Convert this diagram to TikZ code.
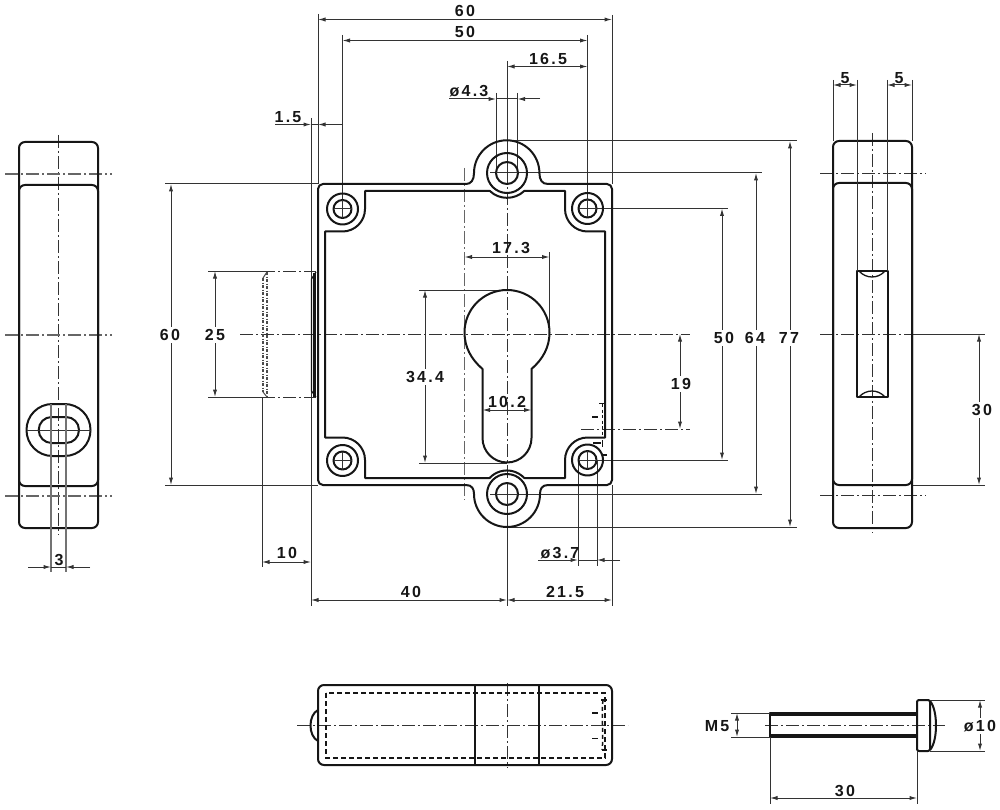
\documentclass[tikz,border=0pt]{standalone}
\usepackage{fontspec}
\setmainfont{Liberation Sans}
\newfontfamily\dimfont[LetterSpace=14]{Liberation Sans}
\usetikzlibrary{arrows.meta}
\definecolor{ink}{HTML}{161616}
\definecolor{thin}{HTML}{333333}
\tikzset{
  x=1pt,y=-1pt,
  obj/.style={draw=ink,line width=2pt,line join=round},
  objthin/.style={draw=ink,line width=1.3pt},
  ext/.style={draw=thin,line width=1pt},
  extsoft/.style={draw=black!55,line width=1.3pt},
  dimline/.style={draw=thin,line width=1pt,{Latex[length=7.5pt,width=4.2pt]}-{Latex[length=7.5pt,width=4.2pt]}},
  arrowin/.style={draw=thin,line width=1pt,-{Latex[length=7.5pt,width=4.2pt]}},
  axis/.style={draw=thin,line width=1pt,dash pattern=on 13pt off 3pt on 2pt off 3pt},
  axisbold/.style={draw=black!60,line width=1.4pt,dash pattern=on 13pt off 3pt on 2pt off 3pt},
  hidden/.style={draw=ink,line width=1.5pt,dash pattern=on 5pt off 3pt},
  lab/.style={font=\dimfont\bfseries\fontsize{16}{18}\selectfont,text=ink,inner sep=1.5pt},
  labw/.style={lab,fill=white,inner sep=2pt},
}
\begin{document}
\begin{tikzpicture}
\path[use as bounding box,fill=white] (0,0) rectangle (1000,810);

% ---------- centre lines front view
\draw[axis] (240,334) -- (690,334);
\draw[axis] (507,150) -- (507,480);
\draw[axisbold] (464.5,168) -- (464.5,500);
\draw[axis] (581,429) -- (690,429);

% ---------- extension lines front view
\draw[ext] (318,14) -- (318,184);
\draw[ext] (612,15) -- (612,184);
\draw[ext] (342.5,35) -- (342.5,209);
\draw[ext] (587.5,35) -- (587.5,209);
\draw[ext] (507,61) -- (507,173);
\draw[ext] (496,93) -- (496,170);
\draw[ext] (517.5,93) -- (517.5,170);
\draw[ext] (311,118) -- (311,606);
\draw[ext] (507,141) -- (797,141);
\draw[ext] (490,173) -- (762,173);
\draw[ext] (587.5,208.5) -- (728,208.5);
\draw[ext] (587.5,460) -- (728,460);
\draw[ext] (490,494) -- (762,494);
\draw[ext] (507,527) -- (797,527);
\draw[ext] (165,184) -- (318,184);
\draw[ext] (165,485) -- (318,485);
\draw[ext] (208,271) -- (262,271);
\draw[ext] (208,397) -- (262,397);
\draw[axis] (262,271) -- (316,271);
\draw[axis] (262,397) -- (316,397);
\draw[ext] (262,397) -- (262,567);
\draw[ext] (507,494) -- (507,606);
\draw[ext] (612,485) -- (612,606);
\draw[ext] (578,460) -- (578,566);
\draw[ext] (597,460) -- (597,566);
\draw[ext] (549.5,252) -- (549.5,332);
\draw[ext] (419,290) -- (507,290);
\draw[ext] (419,463) -- (507,463);

% ---------- front view outline
\draw[obj] (318,189) arc[start angle=180,end angle=270,radius=5] -- (466,184)
  .. controls (471,184) and (474,180) .. (474,173)
  arc[start angle=180,end angle=360,radius=32.7]
  .. controls (539.5,180) and (542,184) .. (548,184)
  -- (607,184) arc[start angle=270,end angle=360,radius=5]
  -- (612,480) arc[start angle=0,end angle=90,radius=5]
  -- (548,485) .. controls (542,485) and (540,489) .. (540,494)
  arc[start angle=0,end angle=180,radius=33]
  .. controls (474,489) and (472,485) .. (466,485)
  -- (323,485) arc[start angle=90,end angle=180,radius=5] -- cycle;
\draw[obj] (365,191) -- (365,209) arc[start angle=0,end angle=90,radius=22.5]
  -- (325,231.5) -- (325,437.5) -- (342.5,437.5)
  arc[start angle=270,end angle=360,radius=22.5]
  -- (365,478) -- (489.6,478) arc[start angle=223,end angle=317,radius=23.7]
  -- (565,478) -- (565,460) arc[start angle=180,end angle=270,radius=22.5]
  -- (605,437.5) -- (605,231.5) -- (587.5,231.5)
  arc[start angle=90,end angle=180,radius=22.5]
  -- (565,191) -- (524.2,191) arc[start angle=46.6,end angle=133.4,radius=25]
  -- cycle;

% ---------- bosses
\foreach \cx/\cy in {507/173,507/494}{
  \draw[obj] (\cx,\cy) circle[radius=20];
  \draw[obj] (\cx,\cy) circle[radius=11];
}
\foreach \cx/\cy in {342.5/209,587.5/208.5,342.5/460.5,587.5/460}{
  \draw[obj] (\cx,\cy) circle[radius=15.5];
  \draw[obj] (\cx,\cy) circle[radius=9];
  \draw[ext] (\cx-9,\cy) -- (\cx+9,\cy);
  \draw[ext] (\cx,\cy-9) -- (\cx,\cy+9);
}
\draw[ext] (496,173) -- (518,173);
\draw[ext] (496,494) -- (518,494);
\draw[ext] (507,484) -- (507,505);

% ---------- key hole
\draw[obj] (482.5,369)
  .. controls (471,359) and (464.5,347) .. (464.5,332.5)
  arc[start angle=180,end angle=360,radius=42.5]
  .. controls (549.5,347) and (543,359) .. (531.5,369)
  -- (531.5,438) arc[start angle=0,end angle=180,radius=24.5] -- cycle;

% ---------- left tab and ghost pin
\draw[line width=1.2pt,draw=ink] (316,272) -- (311.5,279) -- (311.5,391) -- (316,397);
\draw[line width=3pt,draw=ink] (314.5,273) -- (314.5,397);
\draw[draw=black!70,line width=1.1pt,dash pattern=on 3pt off 1.5pt on 1pt off 1.5pt] (263,278) -- (263,392);
\draw[draw=black!70,line width=1.1pt,dash pattern=on 3pt off 1.5pt on 1pt off 1.5pt] (267,272) -- (267,397);
\draw[draw=black!70,line width=1pt] (263,278) -- (267,272);
\draw[draw=black!70,line width=1pt] (263,392) -- (267,397);

% ---------- hidden detail lower right
\draw[hidden,dash pattern=on 3pt off 2.5pt] (602.5,404) -- (602.5,436);
\draw[objthin] (599,403.5) -- (606,403.5);
\draw[objthin] (592,417) -- (598,417);
\draw[objthin] (593,443) -- (601,443);
\draw[objthin] (602.5,440) -- (602.5,447);
\draw[objthin] (602,455) -- (607,455);

% ---------- dimension lines front view
\draw[dimline] (318,19.5) -- (612,19.5);
\draw[dimline] (342.5,40.5) -- (587.5,40.5);
\draw[dimline] (507,66.5) -- (587.5,66.5);
\draw[ext] (449,99) -- (480,99);
\draw[arrowin] (480,99) -- (496,99);
\draw[arrowin] (540,99) -- (517.5,99);
\draw[ext] (496,99) -- (517.5,99);
\draw[arrowin] (275,124.5) -- (311,124.5);
\draw[arrowin] (343,124.5) -- (318,124.5);
\draw[ext] (311,124.5) -- (318,124.5);
\draw[dimline] (171,184) -- (171,485);
\draw[dimline] (215,271) -- (215,397);
\draw[dimline] (262,562) -- (311,562);
\draw[dimline] (311,600) -- (507,600);
\draw[dimline] (507,600) -- (612,600);
\draw[ext] (538,560) -- (560,560);
\draw[arrowin] (560,560) -- (578,560);
\draw[arrowin] (620,560) -- (597,560);
\draw[ext] (578,560) -- (597,560);
\draw[dimline] (464.5,257) -- (549.5,257);
\draw[dimline] (425,290) -- (425,463);
\draw[dimline] (482.5,410) -- (531.5,410);
\draw[dimline] (680,334) -- (680,429);
\draw[dimline] (722,208.5) -- (722,460);
\draw[dimline] (756,173) -- (756,494);
\draw[dimline] (790,141) -- (790,527);

% ---------- left view
\draw[axis] (58.5,135) -- (58.5,535);
\draw[axisbold] (5,174) -- (112,174);
\draw[axisbold] (5,335) -- (112,335);
\draw[axisbold] (5,496) -- (112,496);
\draw[obj,rounded corners=6pt] (19,142) rectangle (98,528);
\draw[obj,rounded corners=6pt] (19,185) rectangle (98,486);
\draw[obj,rounded corners=25.9pt] (26.5,404) rectangle (90.5,456);
\draw[obj,rounded corners=12.9pt] (38.7,417) rectangle (79,443);
\draw[ext] (26.5,430) -- (90.5,430);
\draw[extsoft] (51,404) -- (51,572);
\draw[extsoft] (66,404) -- (66,572);
\draw[arrowin] (28,567) -- (51,567);
\draw[arrowin] (90,567) -- (66,567);
\draw[ext] (51,567) -- (66,567);

% ---------- right view
\draw[axis] (872,133) -- (872,533);
\draw[axis] (820,173.5) -- (926,173.5);
\draw[axis] (820,495) -- (926,495);
\draw[axis] (820,334) -- (912,334);
\draw[ext] (912,334) -- (985,334);
\draw[ext] (912,485) -- (985,485);
\draw[obj,rounded corners=6pt] (833,141) rectangle (912,528);
\draw[obj,rounded corners=6pt] (833,183) rectangle (912,485);
\draw[obj] (857,271) rectangle (887.5,397);
\draw[objthin] (859,271) .. controls (866,279) and (878,279) .. (885,271);
\draw[objthin] (859,397) .. controls (866,389) and (878,389) .. (885,397);
\draw[ext] (833,80) -- (833,141);
\draw[ext] (857,80) -- (857,271);
\draw[ext] (887,80) -- (887,271);
\draw[ext] (912,80) -- (912,141);
\draw[dimline] (833,85) -- (857,85);
\draw[dimline] (887,85) -- (912,85);
\draw[dimline] (979,334) -- (979,485);

% ---------- bottom view
\draw[axis] (297,725) -- (628,725);
\draw[axis] (507,683) -- (507,768);
\draw[obj,rounded corners=6pt] (318,685) rectangle (612,765);
\draw[hidden] (326,693) rectangle (605,758);
\draw[obj] (475,685) -- (475,765);
\draw[obj] (538.5,685) -- (538.5,765);
\draw[obj] (318,710) .. controls (308,715) and (308,736) .. (318,741);
\draw[hidden,dash pattern=on 4pt off 3pt] (603,700) .. controls (601,715) and (604,735) .. (602,750);
\draw[objthin] (592,713) -- (598,713);
\draw[objthin] (592,738.5) -- (598,738.5);
\draw[objthin] (601,700) -- (607,700);
\draw[objthin] (602,750) -- (607,750);

% ---------- bolt
\draw[axis] (765,725) -- (945,725);
\draw[obj] (770,713) rectangle (917,737);
\draw[objthin] (770,715) -- (917,715);
\draw[objthin] (770,735) -- (917,735);
\draw[obj,rounded corners=2pt] (917,700) rectangle (930,751);
\draw[obj] (930,701) .. controls (938,710) and (938,741) .. (930,750);
\draw[ext] (731,713) -- (770,713);
\draw[ext] (731,737) -- (770,737);
\draw[ext] (930,700) -- (985,700);
\draw[ext] (930,751) -- (985,751);
\draw[ext] (770,737) -- (770,804);
\draw[ext] (917,751) -- (917,804);
\draw[dimline] (737,713) -- (737,737);
\draw[dimline] (980,700) -- (980,751);
\draw[dimline] (770,798) -- (917,798);

% ---------- labels
\node[lab] (l60top) at (465,11) {60};
\node[lab] (l50top) at (465,32) {50};
\node[lab] (l165) at (548,58.5) {16.5};
\node[lab] (l43) at (469,91) {ø4.3};
\node[lab] (l15) at (288,117) {1.5};
\node[labw] (l60left) at (170,335) {60};
\node[labw] (l25) at (215,335) {25};
\node[lab] (l173) at (511,248.5) {17.3};
\node[labw] (l344) at (425,377) {34.4};
\node[lab] (l102) at (507,402) {10.2};
\node[labw] (l19) at (681,384) {19};
\node[labw] (l50r) at (724,338) {50};
\node[labw] (l64) at (755,338) {64};
\node[labw] (l77) at (789,338) {77};
\node[labw] (l30r) at (982,410) {30};
\node[lab] (l10) at (287,553) {10};
\node[lab] (l40) at (411,592) {40};
\node[lab] (l215) at (565,592) {21.5};
\node[lab] (l37) at (560,553) {ø3.7};
\node[lab] (l3) at (59,560) {3};
\node[lab] (l5a) at (845,78) {5};
\node[lab] (l5b) at (899,78) {5};
\node[lab] (lM5) at (717,726) {M5};
\node[labw] (l10d) at (980,726) {ø10};
\node[lab] (l30b) at (845,791) {30};
\end{tikzpicture}
\end{document}
